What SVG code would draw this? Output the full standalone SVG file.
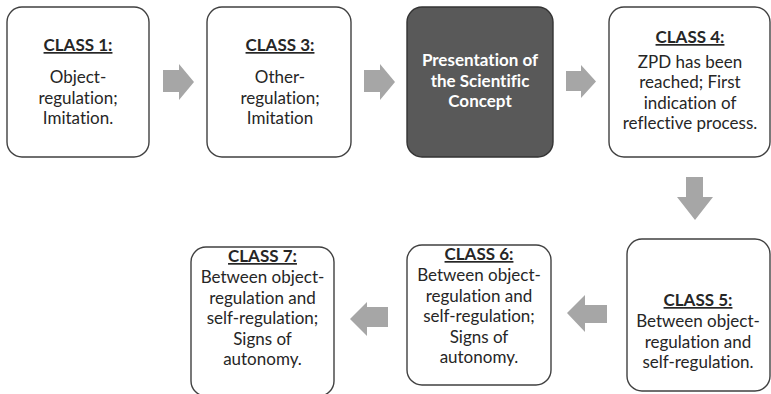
<svg xmlns="http://www.w3.org/2000/svg" width="771" height="394" viewBox="0 0 771 394">
<style>
.box{fill:#ffffff;stroke:#404040;stroke-width:1.4}
.dark{fill:#595959;stroke:#333333;stroke-width:1.4}
.arr{fill:#a6a6a6;stroke:none}
text{font-family:Lato,"Open Sans","Liberation Sans",sans-serif;font-size:17px;fill:#262626;text-anchor:middle;font-variant-ligatures:none;font-feature-settings:"liga" 0}
.t{font-weight:bold;text-decoration:underline}
.w{font-weight:bold;fill:#ffffff}
</style>
<rect width="771" height="394" fill="#ffffff"/>
<g id="connectors">
<path class="arr" d="M163,70 H179 V64 L194,82 L179,100 V92 H163 Z"/>
<path class="arr" d="M364,70 H380 V64 L395,82 L380,100 V92 H364 Z"/>
<path class="arr" d="M566,71 H581 V65 L596,81.5 L581,98 V91 H566 Z"/>
<path class="arr" d="M686,177 H703 V197 H713 L695,220 L677,197 H686 Z"/>
<path class="arr" d="M607,305 H585 V295 L567,313 L585,332 V323 H607 Z"/>
<path class="arr" d="M388,307 H367 V302 L350,319 L367,336 V327 H388 Z"/>
</g>
<g id="class1">
<rect class="box" x="7" y="7" width="142" height="150" rx="15"/>
<text class="t" x="78" y="51">CLASS 1:</text>
<text x="78" y="83">Object-</text>
<text x="78" y="103.5">regulation;</text>
<text x="78" y="124">Imitation.</text>
</g>
<g id="class3">
<rect class="box" x="207" y="7" width="144" height="150" rx="15"/>
<text class="t" x="280" y="51">CLASS 3:</text>
<text x="280" y="83">Other-</text>
<text x="280" y="103.5">regulation;</text>
<text x="280" y="124">Imitation</text>
</g>
<g id="concept">
<rect class="dark" x="407" y="7" width="146" height="150" rx="15"/>
<text class="w" x="480" y="66">Presentation of</text>
<text class="w" x="480" y="86.5">the Scientific</text>
<text class="w" x="480" y="107">Concept</text>
</g>
<g id="class4">
<rect class="box" x="609" y="7" width="161" height="150" rx="15"/>
<text class="t" x="690" y="43">CLASS 4:</text>
<text x="690" y="67.5">ZPD has been</text>
<text x="690" y="88">reached; First</text>
<text x="690" y="108.5">indication of</text>
<text x="690" y="129">reflective process.</text>
</g>
<g id="class5">
<rect class="box" x="627" y="239" width="143" height="152" rx="15"/>
<text class="t" x="698" y="306">CLASS 5:</text>
<text x="698" y="327">Between object-</text>
<text x="698" y="347.5">regulation and</text>
<text x="698" y="368">self-regulation.</text>
</g>
<g id="class6">
<rect class="box" x="407" y="245" width="144" height="140" rx="15"/>
<text class="t" x="479" y="260">CLASS 6:</text>
<text x="479" y="281">Between object-</text>
<text x="479" y="301.5">regulation and</text>
<text x="479" y="322">self-regulation;</text>
<text x="479" y="342.5">Signs of</text>
<text x="479" y="363">autonomy.</text>
</g>
<g id="class7">
<rect class="box" x="191" y="247" width="143" height="149" rx="15"/>
<text class="t" x="262.5" y="262">CLASS 7:</text>
<text x="262.5" y="283">Between object-</text>
<text x="262.5" y="303.5">regulation and</text>
<text x="262.5" y="324">self-regulation;</text>
<text x="262.5" y="344.5">Signs of</text>
<text x="262.5" y="365">autonomy.</text>
</g>
</svg>
